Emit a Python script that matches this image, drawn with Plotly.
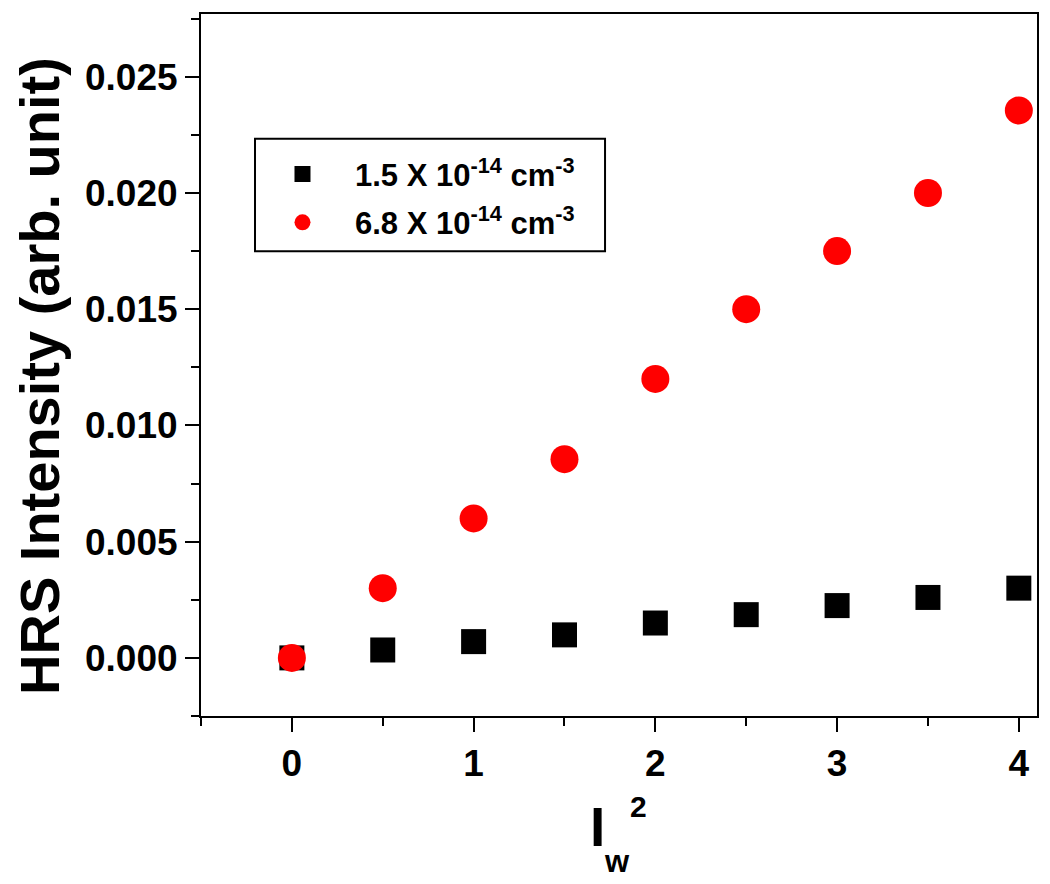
import plotly.graph_objects as go

x_vals = [0, 0.5, 1, 1.5, 2, 2.5, 3, 3.5, 4]
low_conc = [0.0, 0.00034, 0.0007, 0.00099, 0.0015, 0.00186, 0.00225, 0.0026, 0.0030]
high_conc = [0.0, 0.0030, 0.0060, 0.00855, 0.0120, 0.0150, 0.0175, 0.0200, 0.02355]
names = ["1.5 X 10<sup>-14</sup> cm<sup>-3</sup>", "6.8 X 10<sup>-14</sup> cm<sup>-3</sup>"]
x_title_parts = ["I", "w", "2"]
y_title = "HRS Intensity (arb. unit)"

FONT = "Liberation Sans, Arial, Helvetica, sans-serif"

fig = go.Figure()
fig.add_trace(go.Scatter(x=x_vals, y=low_conc, mode="markers", name=names[0], legendgroup="a",
                         marker=dict(symbol="square", size=25, color="black", line=dict(width=0))))
fig.add_trace(go.Scatter(x=x_vals, y=high_conc, mode="markers", name=names[1], legendgroup="b",
                         marker=dict(symbol="circle", size=28, color="red", line=dict(width=0))))

axis_common = dict(
    showgrid=False, zeroline=False, showline=True, linecolor="black", linewidth=2,
    mirror=True, ticks="outside", ticklen=14, tickwidth=2, tickcolor="black",
)

# page body has an 8px margin, so the figure is drawn 8px smaller and offset
fig.update_layout(
    width=1042, height=876,
    paper_bgcolor="white", plot_bgcolor="white",
    margin=dict(l=193, r=13, t=4, b=168),
    showlegend=True,
    legend=dict(
        x=0.0586, y=0.81, xanchor="left", yanchor="top",
        borderwidth=0, bgcolor="rgba(0,0,0,0)",
        font=dict(family=FONT, size=31, color="black", weight="bold"),
        itemsizing="trace", itemwidth=95, tracegroupgap=5,
    ),
    xaxis=dict(
        range=[-0.5, 4.1], tick0=0, dtick=1,
        minor=dict(dtick=0.5, tick0=0, ticks="outside", ticklen=8, tickwidth=2, tickcolor="black"),
        tickfont=dict(family=FONT, size=37, color="black", weight="bold"),
        **axis_common,
    ),
    yaxis=dict(
        range=[-0.0025, 0.0277], tick0=0, dtick=0.005, tickformat=".3f",
        minor=dict(dtick=0.0025, tick0=0, ticks="outside", ticklen=8, tickwidth=2, tickcolor="black"),
        tickfont=dict(family=FONT, size=37, color="black", weight="bold"),
        **axis_common,
    ),
    shapes=[dict(type="rect", xref="paper", yref="paper", x0=0.0646, x1=0.4833, y0=0.662, y1=0.8224,
                 line=dict(color="black", width=2), fillcolor="rgba(0,0,0,0)", layer="below")],
)

# y-axis title
fig.add_annotation(text=y_title, xref="paper", yref="paper", x=-0.1926, y=0.4844,
                   xanchor="center", yanchor="middle", textangle=-90, showarrow=False,
                   font=dict(family=FONT, size=56, color="black", weight="bold"))

# x-axis title I_w^2 built from three pieces for exact placement
fig.add_annotation(text=x_title_parts[0], xref="paper", yref="paper", x=0.4743, y=-0.1578,
                   xanchor="center", yanchor="middle", showarrow=False,
                   font=dict(family=FONT, size=55, color="black", weight="bold"))
fig.add_annotation(text=x_title_parts[1], xref="paper", yref="paper", x=0.4976, y=-0.2077,
                   xanchor="center", yanchor="middle", showarrow=False,
                   font=dict(family=FONT, size=31, color="black", weight="bold"))
fig.add_annotation(text=x_title_parts[2], xref="paper", yref="paper", x=0.5239, y=-0.1295,
                   xanchor="center", yanchor="middle", showarrow=False,
                   font=dict(family=FONT, size=30, color="black", weight="bold"))

fig.write_html("out.html")
